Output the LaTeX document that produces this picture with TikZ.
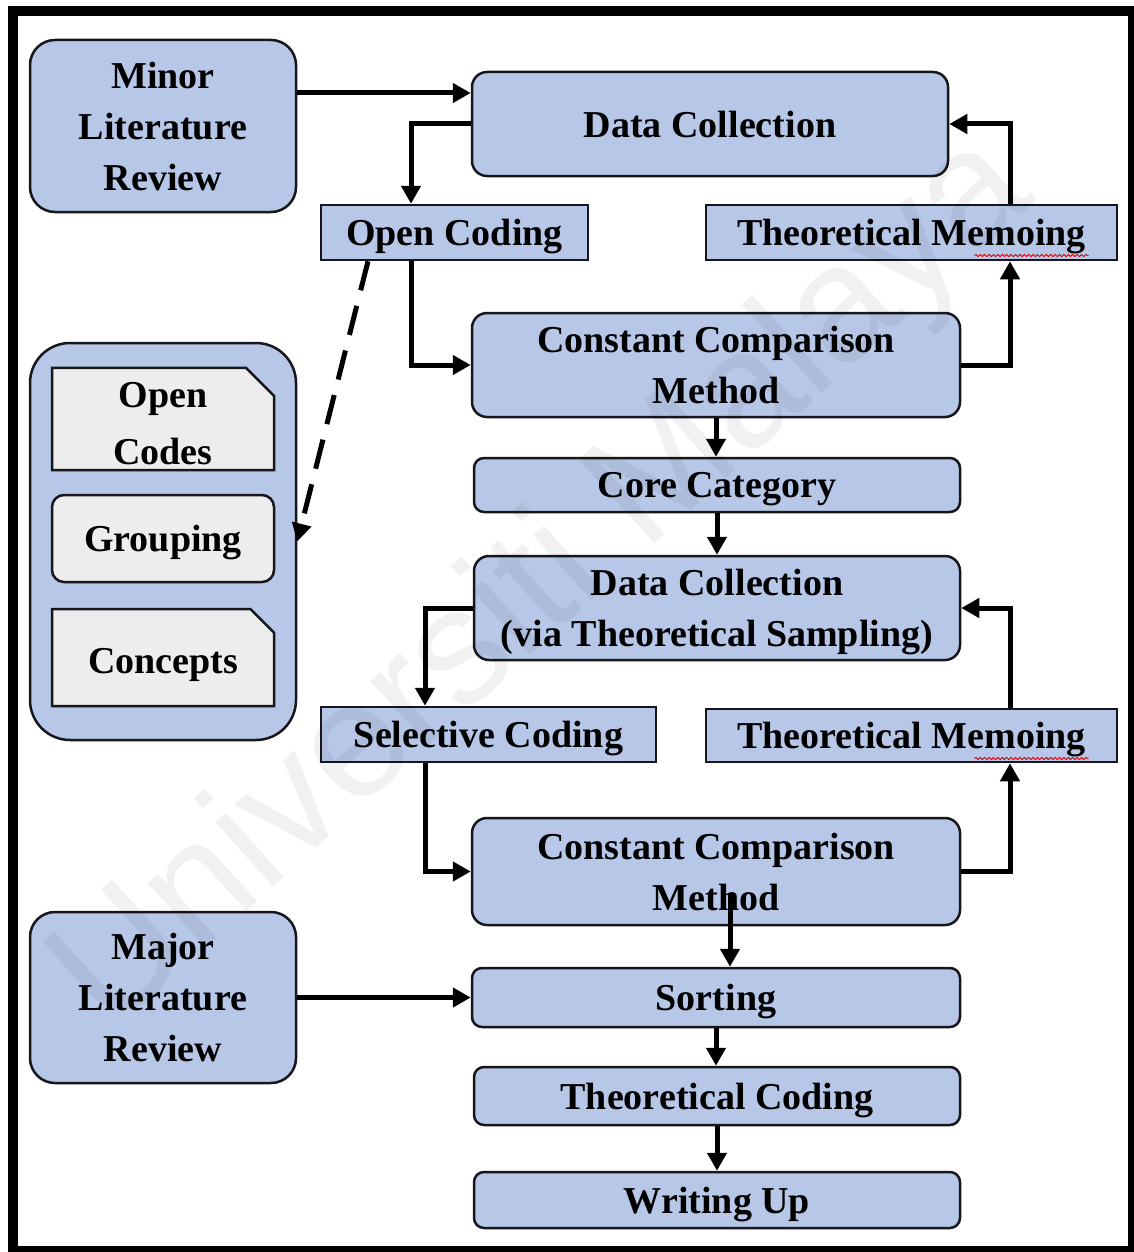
\documentclass[tikz,border=0pt]{standalone}
\usepackage{fontspec}
\setmainfont{Liberation Serif}
\newfontfamily\wmfont{Liberation Sans}
\usetikzlibrary{arrows.meta,shapes.misc,calc,decorations.pathmorphing}
\definecolor{boxblue}{RGB}{182,199,231}
\definecolor{boxgray}{RGB}{237,237,237}
\definecolor{edgeblk}{RGB}{22,22,28}
\begin{document}
\begin{tikzpicture}[x=0.5pt,y=-0.5pt,
  lbl/.style={font=\fontsize{19}{25.5}\selectfont\bfseries, align=center, inner sep=0pt,
    text depth=0pt, text=black},
  sz/.style 2 args={minimum width=#1*0.5pt, minimum height=#2*0.5pt},
  flatbox/.style={lbl, draw=edgeblk, fill=boxblue, line width=1.25pt},
  roundbox/.style={flatbox, rounded corners=#1},
  graybox/.style={lbl, draw=edgeblk, fill=boxgray, line width=1.25pt},
  snipbox/.style={graybox, chamfered rectangle, chamfered rectangle corners=north east,
    chamfered rectangle xsep=7pt, chamfered rectangle ysep=7pt},
  flow/.style={line width=2.5pt, draw=black, -{Triangle[length=9pt,width=9.5pt]}},
  spell/.style={red!85!black, line width=0.45pt, decorate,
    decoration={snake, amplitude=0.55pt, segment length=2.2pt}}
]
\useasboundingbox (0,0) rectangle (1134,1252);
\clip (0,0) rectangle (1134,1252);
\fill[white] (0,0) rectangle (1134,1252);

% outer frame
\draw[line width=5pt] (13,11) rectangle (1133,1251);

% helper coordinates for the vertical runs of the connectors
\coordinate (ya)    at (0,93);
\coordinate (c411)  at (411,0);
\coordinate (c425)  at (425,0);
\coordinate (c1010) at (1010,0);
\coordinate (c368)  at (368,0);

% left column
\node[roundbox=12.5pt, sz={266}{172}] (minor) at (163,126) {Minor\\Literature\\Review};
\node[roundbox=20pt, sz={266}{397}] (grp) at (163,541.5) {};
\node[snipbox, sz={222}{96}] (opencodes) at (163,419) {Open\\[-1pt]\raisebox{-4pt}{Codes}};
\node[graybox, rounded corners=6pt, sz={222}{87}] (grouping) at (163,538.5) {Grouping};
\node[snipbox, sz={222}{97}] (concepts) at (163,657.5) {\raisebox{-3pt}{Concepts}};
\node[roundbox=12.5pt, sz={266}{171}] (major) at (163,997.5) {Major\\Literature\\Review};

% main column
\node[roundbox=7.5pt, sz={476}{104}] (dc1) at (710,124) {Data Collection};
\node[flatbox, sz={267}{55}] (oc) at (454.5,232.5) {Open Coding};
\node[flatbox, sz={411}{55}] (tm1) at (911.5,232.5) {Theoretical Memoing};
\node[roundbox=7.5pt, sz={488}{104}] (ccm1) at (716,365) {Constant Comparison\\Method};
\node[roundbox=5pt, sz={486}{54}] (core) at (717,485) {Core Category};
\node[roundbox=7.5pt, sz={486}{104}] (dc2) at (717,608) {Data Collection\\(via Theoretical Sampling)};
\node[flatbox, sz={335}{55}] (sc) at (488.5,734.5) {Selective Coding};
\node[flatbox, sz={411}{53}] (tm2) at (911.5,735.5) {Theoretical Memoing};
\node[roundbox=7.5pt, sz={488}{107}] (ccm2) at (716,871.5) {Constant Comparison\\Method};
\node[roundbox=5pt, sz={488}{59}] (sort) at (716,997.5) {Sorting};
\node[roundbox=5pt, sz={486}{58}] (tc) at (717,1096) {Theoretical Coding};
\node[roundbox=5pt, sz={486}{56}] (wu) at (717,1200) {Writing Up};

% spelling marks under "Memoing"
\draw[spell] ($(tm1.center)+(63,23)$) -- ($(tm1.center)+(177,23)$);
\draw[spell] ($(tm2.center)+(63,23)$) -- ($(tm2.center)+(177,23)$);

% connectors
\draw[flow] (minor.east |- ya) -- (dc1.west |- ya);
\draw[flow] (dc1.west) -| (c411 |- oc.north);
\draw[flow] (c411 |- oc.south) |- (ccm1.west);
\draw[flow] (ccm1.east) -| (c1010 |- tm1.south);
\draw[flow] (c1010 |- tm1.north) |- (dc1.east);
\draw[flow] (ccm1.south) -- (ccm1.south |- core.north);
\draw[flow] (core.south) -- (core.south |- dc2.north);
\draw[flow] (dc2.west) -| (c425 |- sc.north);
\draw[flow] (c425 |- sc.south) |- (ccm2.west);
\draw[flow] (ccm2.east) -| (c1010 |- tm2.south);
\draw[flow] (c1010 |- tm2.north) |- (dc2.east);
\draw[flow] ($(ccm2.south)+(14,-32)$) -- ($(sort.north)+(14,0)$);
\draw[flow] (major.east) -- (sort.west);
\draw[flow] (sort.south) -- (sort.south |- tc.north);
\draw[flow] (tc.south) -- (tc.south |- wu.north);
\draw[flow, dash pattern=on 15pt off 8pt] (c368 |- oc.south) -- (grp.east);

% watermark
\node[rotate=42, text=black, opacity=0.055, inner sep=0pt,
  font=\wmfont\fontsize{82}{82}\selectfont] (wm) at (545,585) {Universiti Malaya};
\end{tikzpicture}
\end{document}
